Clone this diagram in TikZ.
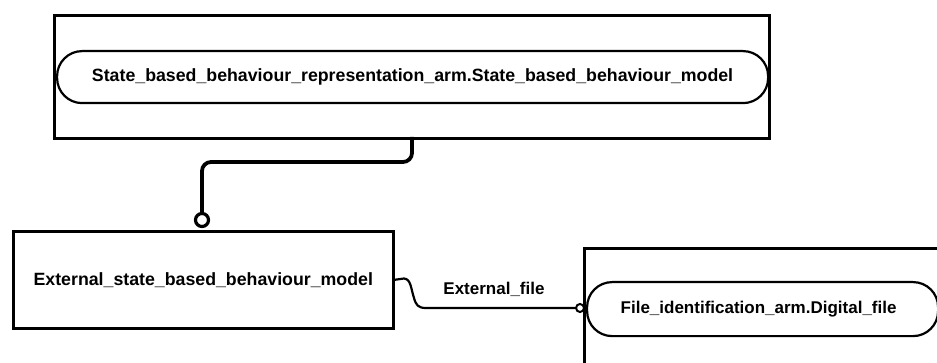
\documentclass[tikz,border=0pt]{standalone}
\usepackage{fontspec}
\setmainfont{Liberation Sans}
\begin{document}
\begin{tikzpicture}[x=1pt,y=-1pt,
  box/.style={draw, line width=2.6pt, inner sep=0pt, anchor=north west, fill=white},
  pill/.style={draw, line width=2.2pt, inner sep=0pt, anchor=north west, rounded corners=25pt},
  lbl/.style={font=\bfseries\fontsize{17}{20}\selectfont, inner sep=0pt},
  biglbl/.style={font=\bfseries\fontsize{17.75}{21}\selectfont, inner sep=0pt},
  thickconn/.style={draw, line width=3.8pt, rounded corners=9pt},
  thinconn/.style={draw, line width=2.2pt},
  endcirc/.style={circle, draw, fill=white, inner sep=0pt},
]
\useasboundingbox (0,0) rectangle (937,363);
\clip (0,0) rectangle (937,363);
\fill[white] (0,0) rectangle (937,363);
% top entity
\node[box, minimum width=715pt, minimum height=123pt] (top) at (53,14) {};
\node[pill, minimum width=711pt, minimum height=52pt] (topin) at (56,50) {};
\node[biglbl] (toptxt) at (topin.center) {State\_based\_behaviour\_representation\_arm.State\_based\_behaviour\_model};
% bottom left entity
\node[box, minimum width=380pt, minimum height=97pt] (ext) at (12,230) {};
\node[biglbl] (exttxt) at (ext.center) {External\_state\_based\_behaviour\_model};
% right entity
\node[box, minimum width=370pt, minimum height=140pt] (file) at (583,247) {};
\node[pill, minimum width=351pt, minimum height=54pt] (filein) at (586,281) {};
\node[lbl] (filetxt) at ([xshift=-4pt]filein.center) {File\_identification\_arm.Digital\_file};
% connector 1
\coordinate (t1) at (412,137);
\node[endcirc, minimum size=13pt, line width=3.2pt] (c1) at (202,220) {};
\draw[thickconn] (t1) -- (412,162) -- (202,162) -- (c1.north);
% connector 2
\node[endcirc, minimum size=8pt, line width=2pt] (c2) at (580,308) {};
\draw[thinconn] (ext.east) -- (404,278.5) .. controls (411,279) and (411,289) .. (414,298)
  .. controls (416,305) and (418,308) .. (426,308) -- (c2.west);
\node[lbl, anchor=base] (rel) at (494,295) {External\_file};
\end{tikzpicture}
\end{document}
